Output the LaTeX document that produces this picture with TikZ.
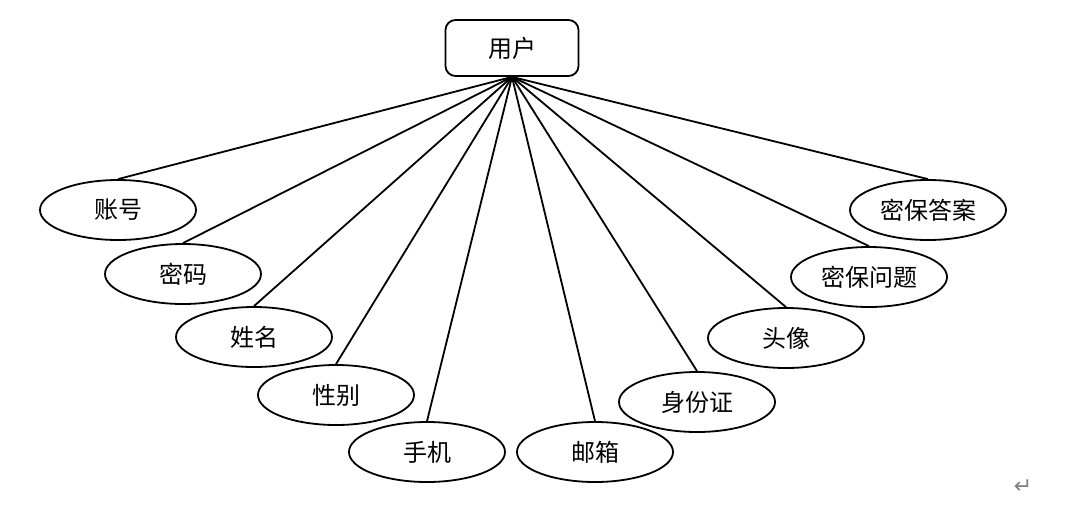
\documentclass[tikz,border=0pt]{standalone}
\usepackage{fontspec}
\newfontfamily\cjk{Noto Sans CJK SC}
\newfontfamily\dejavu{DejaVu Sans}
\usetikzlibrary{shapes.geometric}
\begin{document}
\begin{tikzpicture}[x=1pt,y=-1pt,
  attr/.style={draw, line width=1.8pt, ellipse, minimum width=156pt, minimum height=60pt, inner sep=0pt, font=\cjk\fontsize{24}{24}\selectfont},
  entity/.style={draw, line width=1.8pt, rounded corners=10pt, minimum width=133pt, minimum height=56pt, inner sep=0pt, font=\cjk\fontsize{24}{24}\selectfont},
  link/.style={line width=1.8pt}]
\useasboundingbox (0,0) rectangle (1077,509);
\node[entity] (user) at (512,48) {用户};
\node[attr] (a1) at (118,210) {账号};
\node[attr] (a2) at (183,274) {密码};
\node[attr] (a3) at (254,337) {姓名};
\node[attr] (a4) at (336,395) {性别};
\node[attr] (a5) at (427,452) {手机};
\node[attr] (a6) at (595,452) {邮箱};
\node[attr] (a7) at (697,402) {身份证};
\node[attr] (a8) at (786,338) {头像};
\node[attr] (a9) at (869,277) {密保问题};
\node[attr] (a10) at (928,210) {密保答案};
\foreach \n in {a1,a2,a3,a4,a5,a6,a7,a8,a9,a10}
  \draw[link] (user.south) -- (\n.north);
\node[text=gray, font=\dejavu\fontsize{22}{22}\selectfont] (ret) at (1023,487) {↵};
\end{tikzpicture}
\end{document}
